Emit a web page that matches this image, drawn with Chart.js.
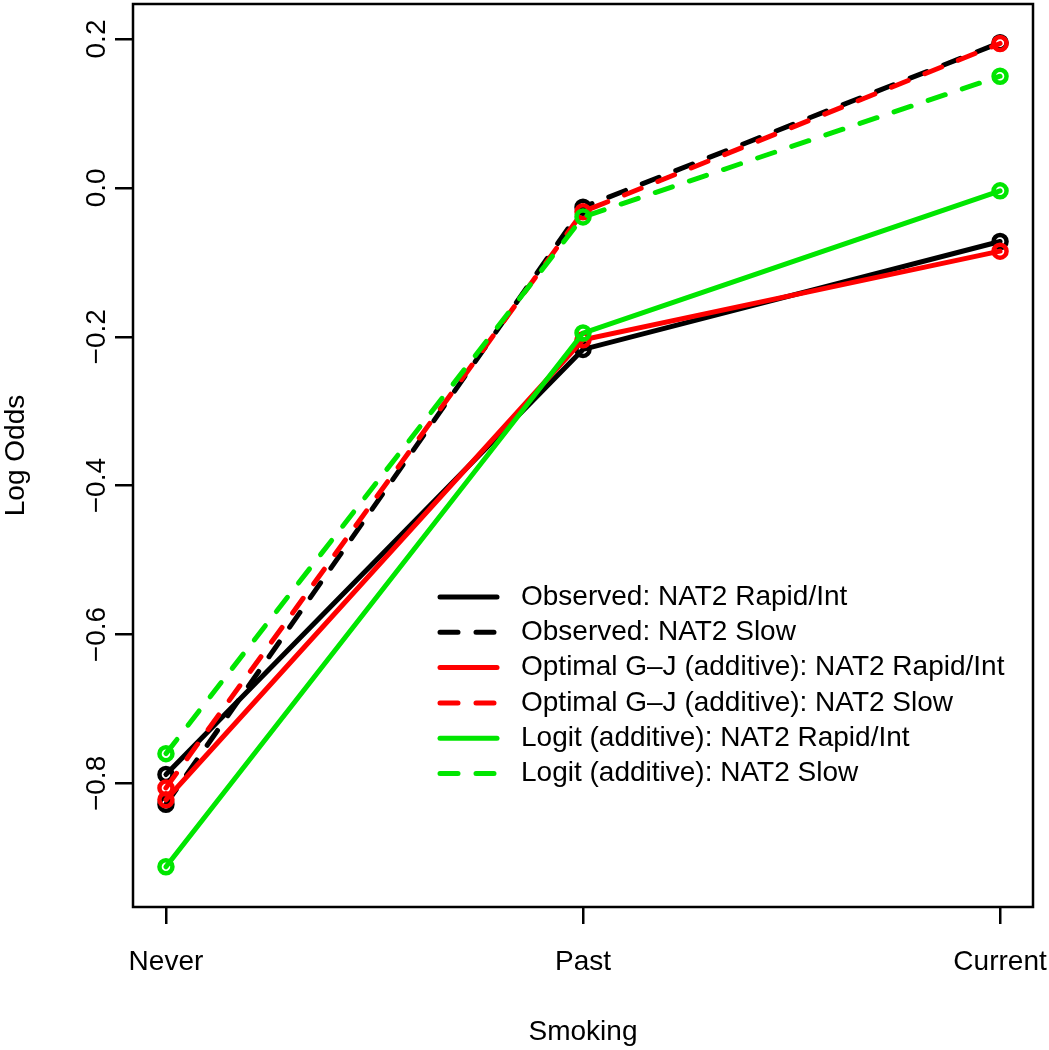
<!DOCTYPE html>
<html>
<head>
<meta charset="utf-8">
<title>Log Odds by Smoking</title>
<script src="https://cdn.jsdelivr.net/npm/chart.js@4.4.1/dist/chart.umd.min.js"></script>
<style>
  html, body { margin: 0; padding: 0; background: #fff; overflow: hidden; }
  #wrap { width: 1049px; height: 1050px; position: relative; }
</style>
</head>
<body>
<div id="wrap"><canvas id="my-chart"></canvas></div>
<script>
// smoking categories (x = 1, 2, 3)
const categories = ["Never", "Past", "Current"];
const yTicks = [-0.8, -0.6, -0.4, -0.2, 0.0, 0.2];

// log odds
const observedRapid = [-0.788, -0.217, -0.072];
const observedSlow = [-0.828, -0.026, 0.195];
const optimalRapid = [-0.822, -0.204, -0.085];
const optimalSlow = [-0.806, -0.032, 0.194];
const logitRapid = [-0.912, -0.195, -0.004];
const logitSlow = [-0.760, -0.039, 0.150];

const seriesLabels = [
  "Observed: NAT2 Rapid/Int",
  "Observed: NAT2 Slow",
  "Optimal G\u2013J (additive): NAT2 Rapid/Int",
  "Optimal G\u2013J (additive): NAT2 Slow",
  "Logit (additive): NAT2 Rapid/Int",
  "Logit (additive): NAT2 Slow"
];
const seriesValues = [observedRapid, observedSlow, optimalRapid, optimalSlow, logitRapid, logitSlow];
const seriesColors = ["#000000", "#000000", "#ff0000", "#ff0000", "#00e600", "#00e600"];
const seriesDashed = [false, true, false, true, false, true];
const seriesOrder = [2, 2, 1, 1, 0, 0];

const FONT = '28px "Liberation Sans", Arial, sans-serif';
const DASH = [18, 18];

function fmt(v) {
  const s = Math.abs(v).toFixed(1);
  return v < -1e-9 ? "\u2212" + s : s;
}

const datasets = seriesValues.map((vals, i) => ({
  label: seriesLabels[i],
  data: vals.map((v, j) => ({ x: j + 1, y: v })),
  borderColor: seriesColors[i],
  borderWidth: 5,
  borderDash: seriesDashed[i] ? DASH : [],
  borderCapStyle: "round",
  pointRadius: 6.5,
  pointBorderWidth: 4.5,
  pointBorderColor: seriesColors[i],
  pointBackgroundColor: "rgba(0,0,0,0)",
  pointHoverRadius: 6.5,
  pointHoverBorderWidth: 4.5,
  tension: 0,
  fill: false,
  order: seriesOrder[i]
}));

// box, axis text and legend, R style
const rDecor = {
  id: "rDecor",
  afterDraw(chart) {
    const ctx = chart.ctx;
    const area = chart.chartArea;
    const xs = chart.scales.x;
    const ys = chart.scales.y;
    ctx.save();
    ctx.strokeStyle = "#000";
    ctx.lineWidth = 2.5;
    ctx.strokeRect(area.left, area.top, area.right - area.left, area.bottom - area.top);

    ctx.fillStyle = "#000";
    ctx.font = FONT;
    ctx.textAlign = "center";
    ctx.textBaseline = "middle";
    xs.ticks.forEach(t => {
      ctx.fillText(categories[t.value - 1], xs.getPixelForValue(t.value), 962);
    });
    ctx.fillText("Smoking", (area.left + area.right) / 2, 1032);

    ys.ticks.forEach(t => {
      ctx.save();
      ctx.translate(97, ys.getPixelForValue(t.value));
      ctx.rotate(-Math.PI / 2);
      ctx.fillText(fmt(t.value), 0, 0);
      ctx.restore();
    });
    ctx.save();
    ctx.translate(16, (area.top + area.bottom) / 2);
    ctx.rotate(-Math.PI / 2);
    ctx.fillText("Log Odds", 0, 0);
    ctx.restore();

    // legend
    ctx.textAlign = "left";
    seriesLabels.forEach((lab, i) => {
      const y = 597 + i * 35.3;
      ctx.beginPath();
      ctx.strokeStyle = seriesColors[i];
      ctx.lineWidth = 5;
      ctx.lineCap = "round";
      ctx.setLineDash(seriesDashed[i] ? DASH : []);
      ctx.moveTo(440, y);
      ctx.lineTo(497, y);
      ctx.stroke();
      ctx.setLineDash([]);
      ctx.fillText(lab, 521, y);
    });
    ctx.restore();
  }
};

const ctx = document.getElementById("my-chart").getContext("2d");
const myChart = new Chart(ctx, {
  type: "line",
  data: { datasets },
  options: {
    responsive: true,
    maintainAspectRatio: false,
    devicePixelRatio: 1,
    animation: false,
    layout: { autoPadding: false, padding: { top: 4, right: 16, left: 0, bottom: 0 } },
    plugins: { legend: { display: false }, tooltip: { enabled: false } },
    scales: {
      x: {
        type: "linear",
        min: 0.921,
        max: 3.079,
        afterBuildTicks: scale => { scale.ticks = categories.map((c, i) => ({ value: i + 1 })); },
        afterFit: scale => { scale.height = 143; },
        ticks: { display: false },
        border: { display: false },
        grid: { drawOnChartArea: false, drawTicks: true, tickLength: 17, color: "#000", lineWidth: 2.5 }
      },
      y: {
        type: "linear",
        min: -0.966,
        max: 0.247,
        afterBuildTicks: scale => { scale.ticks = yTicks.map(v => ({ value: v })); },
        afterFit: scale => { scale.width = 133; },
        ticks: { display: false },
        border: { display: false },
        grid: { drawOnChartArea: false, drawTicks: true, tickLength: 18, color: "#000", lineWidth: 2.5 }
      }
    }
  },
  plugins: [rDecor]
});
</script>
</body>
</html>
